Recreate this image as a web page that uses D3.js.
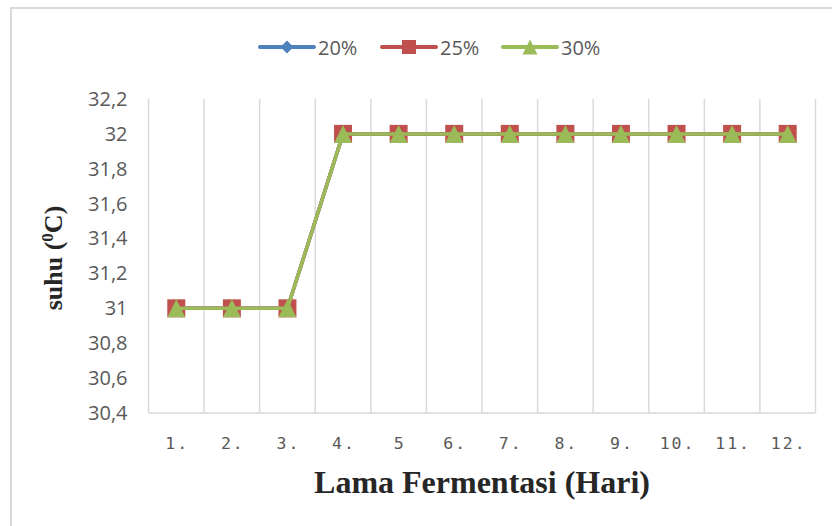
<!DOCTYPE html>
<html>
<head>
<meta charset="utf-8">
<script src="https://cdn.jsdelivr.net/npm/d3@7"></script>
<style>
  body { margin: 0; background: #fff; }
</style>
</head>
<body>
<div id="chart"></div>
<script>
const days = ["1.", "2.", "3.", "4.", "5", "6.", "7.", "8.", "9.", "10.", "11.", "12."];
const seriesNames = ["20%", "25%", "30%"];
const suhu20 = [31, 31, 31, 32, 32, 32, 32, 32, 32, 32, 32, 32];
const suhu25 = [31, 31, 31, 32, 32, 32, 32, 32, 32, 32, 32, 32];
const suhu30 = [31, 31, 31, 32, 32, 32, 32, 32, 32, 32, 32, 32];
const yTicks = [30.4, 30.6, 30.8, 31, 31.2, 31.4, 31.6, 31.8, 32, 32.2];

const colors = ["#4F81BD", "#C0504D", "#9BBB59"];
const series = [suhu20, suhu25, suhu30].map((vals, i) => ({name: seriesNames[i], values: vals, color: colors[i]}));

const W = 832, H = 526;
const margin = {top: 99, right: 16.5, bottom: 113, left: 148.5};
const width = W - margin.left - margin.right;
const height = H - margin.top - margin.bottom;

// excel-ish marker shapes
const diamond = {draw(ctx, size) {
    const r = Math.sqrt(size) / 2;
    ctx.moveTo(0, -r); ctx.lineTo(r, 0); ctx.lineTo(0, r); ctx.lineTo(-r, 0); ctx.closePath();
}};
const triangle = {draw(ctx, size) {
    const r = Math.sqrt(size) / 2;
    ctx.moveTo(0, -r); ctx.lineTo(r, r); ctx.lineTo(-r, r); ctx.closePath();
}};
const markerSym = [diamond, d3.symbolSquare, triangle];
const markerSize = [144, 324, 324];
const legendSize = [169, 196, 225];

const svg = d3.select("#chart").append("svg")
    .attr("width", W)
    .attr("height", H);

// outer frame (only top/left visible in crop)
svg.append("rect")
    .attr("x", 11).attr("y", 8)
    .attr("width", W).attr("height", H)
    .attr("fill", "none")
    .attr("stroke", "#d9d9d9")
    .attr("stroke-width", 2);

const g = svg.append("g").attr("transform", `translate(${margin.left},${margin.top})`);

const x = d3.scaleBand().domain(days).range([0, width]);
const y = d3.scaleLinear().domain([30.4, 32.2]).range([height, 0]);

// vertical gridlines at category boundaries
const bounds = days.map(d => x(d)).concat([width]);
g.selectAll(".vgrid").data(bounds).enter().append("line")
    .attr("x1", d => d).attr("x2", d => d)
    .attr("y1", 0).attr("y2", height)
    .attr("stroke", "#d9d9d9").attr("stroke-width", 1.5);

// bottom axis line
g.append("line")
    .attr("x1", 0).attr("x2", width)
    .attr("y1", height).attr("y2", height)
    .attr("stroke", "#d9d9d9").attr("stroke-width", 1.5);

// y tick labels
const yAxis = d3.axisLeft(y).tickValues(yTicks).tickSize(0).tickPadding(21)
    .tickFormat(d => String(+d.toFixed(1)).replace(".", ","));
g.append("g").call(yAxis)
    .call(s => s.select(".domain").remove())
    .selectAll("text")
    .attr("font-family", "'Open Sans', 'Liberation Sans', sans-serif")
    .attr("font-size", 20)
    .attr("fill", "#595959");

// x tick labels
const xAxis = d3.axisBottom(x).tickSize(0).tickPadding(24);
g.append("g").attr("transform", `translate(0,${height})`).call(xAxis)
    .call(s => s.select(".domain").remove())
    .selectAll("text")
    .attr("font-family", "'DejaVu Sans Mono', monospace")
    .attr("font-size", 16.5)
    .attr("letter-spacing", 2)
    .attr("dx", 1)
    .attr("fill", "#595959");

// lines + markers
const line = d3.line()
    .x((d, i) => x(days[i]) + x.bandwidth() / 2)
    .y(d => y(d));

series.forEach((s, si) => {
    g.append("path")
        .datum(s.values)
        .attr("d", line)
        .attr("fill", "none")
        .attr("stroke", s.color)
        .attr("stroke-width", 3.5)
        .attr("stroke-linejoin", "round");
    g.selectAll(".m" + si).data(s.values).enter().append("path")
        .attr("transform", (d, i) => `translate(${x(days[i]) + x.bandwidth() / 2},${y(d)})`)
        .attr("d", d3.symbol().type(markerSym[si]).size(markerSize[si]))
        .attr("fill", s.color);
});

// legend
const legend = svg.append("g").attr("transform", "translate(260,47)");
const legX = [0, 122, 243];
series.forEach((s, i) => {
    const lg = legend.append("g").attr("transform", `translate(${legX[i]},0)`);
    lg.append("line").attr("x1", 0).attr("x2", 54).attr("y1", 0).attr("y2", 0)
        .attr("stroke", s.color).attr("stroke-width", 4).attr("stroke-linecap", "round");
    lg.append("path").attr("transform", "translate(27,0)")
        .attr("d", d3.symbol().type(markerSym[i]).size(legendSize[i]))
        .attr("fill", s.color);
    lg.append("text").attr("x", 58).attr("y", 7.5)
        .attr("font-family", "'Open Sans', 'Liberation Sans', sans-serif")
        .attr("font-size", 20).attr("fill", "#595959")
        .text(s.name);
});

// axis titles
svg.append("text")
    .attr("x", margin.left + width / 2).attr("y", 493)
    .attr("text-anchor", "middle")
    .attr("font-family", "'Liberation Serif', serif")
    .attr("font-weight", "bold")
    .attr("font-size", 32)
    .attr("fill", "#262626")
    .text("Lama Fermentasi (Hari)");

const yt = svg.append("text")
    .attr("transform", "translate(62,258) rotate(-90)")
    .attr("text-anchor", "middle")
    .attr("font-family", "'Liberation Serif', serif")
    .attr("font-weight", "bold")
    .attr("font-size", 26)
    .attr("fill", "#262626");
yt.append("tspan").text("suhu (");
yt.append("tspan").attr("baseline-shift", "super").attr("font-size", 17).text("0");
yt.append("tspan").text("C)");
</script>
</body>
</html>
